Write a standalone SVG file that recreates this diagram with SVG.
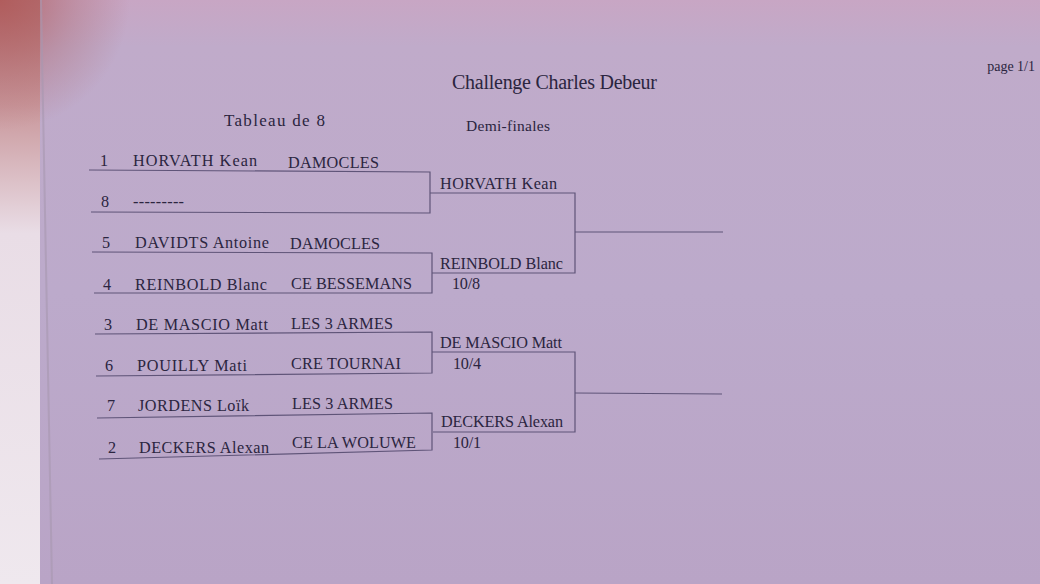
<svg xmlns="http://www.w3.org/2000/svg" width="1040" height="584" viewBox="0 0 1040 584">
<defs>
<linearGradient id="paper" x1="0" y1="0" x2="0" y2="1">
<stop offset="0" stop-color="#c8a6c4"/>
<stop offset="0.08" stop-color="#c0abca"/>
<stop offset="0.5" stop-color="#bcaacb"/>
<stop offset="1" stop-color="#b9a4c6"/>
</linearGradient>
<linearGradient id="strip" x1="0" y1="0" x2="0" y2="1">
<stop offset="0" stop-color="#b46a6a"/>
<stop offset="0.18" stop-color="#c9979b"/>
<stop offset="0.4" stop-color="#e9dde6"/>
<stop offset="1" stop-color="#efe8ee"/>
</linearGradient>
<radialGradient id="corner" cx="0" cy="0" r="130" gradientUnits="userSpaceOnUse">
<stop offset="0" stop-color="#b05a5a" stop-opacity="0.85"/>
<stop offset="0.6" stop-color="#b06a70" stop-opacity="0.35"/>
<stop offset="1" stop-color="#b06a70" stop-opacity="0"/>
</radialGradient>
<style>
text{font-family:"Liberation Serif","Times New Roman",serif;fill:#2b2540;font-size:16.2px}
.ln{fill:none;stroke:#5f5478;stroke-width:1.2}
</style>
</defs>
<rect x="0" y="0" width="1040" height="584" fill="url(#paper)"/>
<rect x="0" y="0" width="40" height="584" fill="url(#strip)"/>
<rect x="0" y="0" width="140" height="140" fill="url(#corner)"/>
<line x1="41" y1="0" x2="52" y2="584" stroke="#a898b0" stroke-width="2" opacity="0.6"/>
<g id="header">
<text x="1035" y="71" text-anchor="end" style="font-size:14px">page 1/1</text>
<text x="452" y="89" textLength="205" style="font-size:20px">Challenge Charles Debeur</text>
<text x="224" y="126" textLength="101" style="font-size:17px">Tableau de 8</text>
<text x="466" y="131" textLength="84" style="font-size:15.5px">Demi-finales</text>
</g>
<g id="connectors">
<polyline class="ln" points="89,170 430,172 430,213 91,212"/>
<polyline class="ln" points="92,252 432,253 432,293 94,293"/>
<polyline class="ln" points="95,334 432,332 432,373 96,376"/>
<polyline class="ln" points="97,418 432,413 432,450 99,459"/>
<polyline class="ln" points="430,193 575,193 575,273 432,273"/>
<polyline class="ln" points="432,352 575,352 575,432 433,432"/>
<line class="ln" x1="575" y1="232" x2="723" y2="232"/>
<line class="ln" x1="575" y1="393" x2="722" y2="394"/>
</g>
<g id="entry-1"><text x="100" y="166">1</text><text x="133" y="166" textLength="124">HORVATH Kean</text><text x="288" y="168" textLength="91">DAMOCLES</text></g>
<g id="entry-8"><text x="101" y="207">8</text><text x="133" y="207" textLength="51">---------</text></g>
<g id="entry-5"><text x="102" y="248">5</text><text x="135" y="248" textLength="134">DAVIDTS Antoine</text><text x="290" y="249" textLength="90">DAMOCLES</text></g>
<g id="entry-4"><text x="103" y="290">4</text><text x="135" y="290" textLength="132">REINBOLD Blanc</text><text x="291" y="289" textLength="121">CE BESSEMANS</text></g>
<g id="entry-3"><text x="104" y="330">3</text><text x="136" y="330" textLength="132">DE MASCIO Matt</text><text x="291" y="329" textLength="102">LES 3 ARMES</text></g>
<g id="entry-6"><text x="105" y="371">6</text><text x="137" y="371" textLength="110">POUILLY Mati</text><text x="291" y="369" textLength="110">CRE TOURNAI</text></g>
<g id="entry-7"><text x="107" y="411">7</text><text x="138" y="411" textLength="111">JORDENS Loïk</text><text x="292" y="409" textLength="101">LES 3 ARMES</text></g>
<g id="entry-2"><text x="108" y="453">2</text><text x="139" y="453" textLength="130">DECKERS Alexan</text><text x="292" y="448" textLength="124">CE LA WOLUWE</text></g>
<g id="semi-1"><text x="440" y="189" textLength="117">HORVATH Kean</text></g>
<g id="semi-2"><text x="440" y="269" textLength="123">REINBOLD Blanc</text><text x="452" y="289" textLength="28">10/8</text></g>
<g id="semi-3"><text x="440" y="348" textLength="122">DE MASCIO Matt</text><text x="453" y="369" textLength="28">10/4</text></g>
<g id="semi-4"><text x="441" y="427" textLength="122">DECKERS Alexan</text><text x="453" y="448" textLength="28">10/1</text></g>
</svg>
